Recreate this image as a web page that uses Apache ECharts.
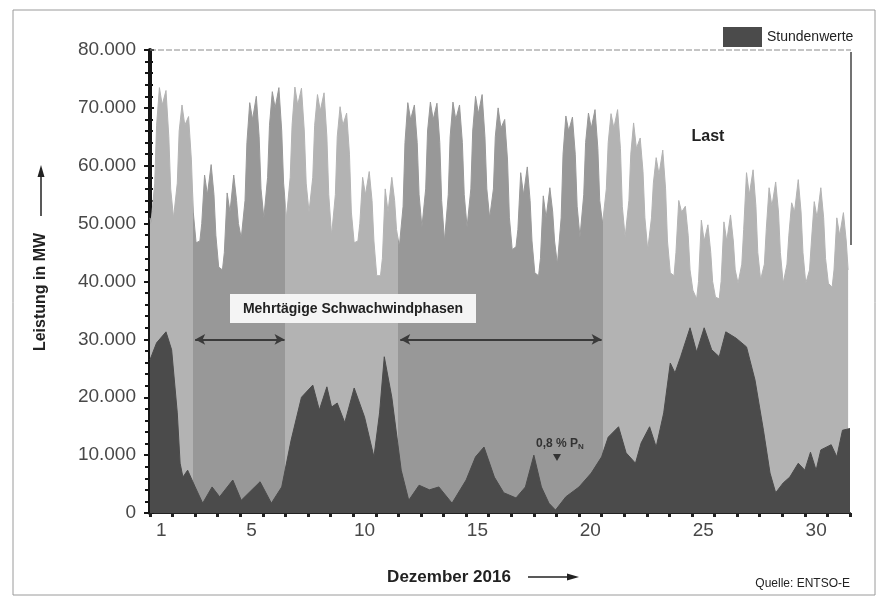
<!DOCTYPE html>
<html>
<head>
<meta charset="utf-8">
<script src="https://cdn.jsdelivr.net/npm/echarts@6/dist/echarts.min.js"></script>
<style>html,body{margin:0;padding:0;background:#fff}#c{width:881px;height:600px}</style>
</head>
<body>
<div id="c"></div>
<script>
// ---- data ----
const dayTickLabels = [1, 5, 10, 15, 20, 25, 30];
const yTicks = [0, 10000, 20000, 30000, 40000, 50000, 60000, 70000, 80000];
const yTickLabels = ['0', '10.000', '20.000', '30.000', '40.000', '50.000', '60.000', '70.000', '80.000'];

// hour-of-day stamps for the load readings of each day
const loadHours = [1, 5, 7, 10, 13, 17, 20, 22];
const loadFirst = [0, 51000];
const loadByDay = [
  [50000, 57000, 67000, 73500, 70500, 73000, 65000, 56000],
  [51000, 57000, 66000, 70500, 67000, 68500, 61000, 52000],
  [46700, 47000, 50000, 58400, 55000, 60200, 55000, 48000],
  [42500, 42000, 45000, 55300, 52000, 58400, 54000, 50000],
  [47500, 54000, 64000, 70900, 68000, 72000, 65000, 56000],
  [51000, 58000, 67000, 72800, 70000, 73500, 66000, 57000],
  [51000, 58000, 67000, 73600, 70500, 73400, 66000, 57000],
  [52000, 58000, 67000, 72300, 69500, 72600, 65000, 55000],
  [48000, 55000, 65000, 70200, 67000, 69100, 62000, 52000],
  [46700, 47000, 50000, 58000, 55000, 59000, 54000, 47000],
  [41000, 41000, 44000, 56000, 52000, 58000, 54000, 49000],
  [46000, 53000, 64000, 70900, 68000, 70500, 64000, 55000],
  [49400, 56000, 66000, 71000, 68000, 70800, 64000, 54000],
  [47000, 55000, 65000, 71000, 68000, 70500, 64000, 55000],
  [49400, 56000, 66000, 72000, 69000, 72300, 65000, 56000],
  [51000, 56000, 65000, 70000, 66500, 68000, 61000, 51000],
  [45500, 46000, 49000, 58800, 55000, 59800, 54000, 47000],
  [41500, 41000, 44000, 54800, 51000, 56200, 52000, 47000],
  [43000, 51000, 62000, 68600, 66000, 68400, 62000, 53000],
  [47700, 55000, 64000, 69100, 66500, 69700, 63000, 54000],
  [50000, 56000, 64000, 69000, 66500, 69700, 63000, 53000],
  [47700, 54000, 62000, 67400, 63000, 64800, 59000, 51000],
  [45500, 51000, 57000, 61400, 58500, 62700, 56000, 47000],
  [41500, 41000, 45000, 54000, 52000, 53000, 48000, 42000],
  [38500, 37000, 40000, 50600, 47000, 49800, 45000, 40000],
  [37300, 37000, 40000, 50300, 47000, 51500, 47000, 42000],
  [39700, 43000, 49000, 58800, 55000, 59300, 53000, 45000],
  [40300, 43000, 49000, 56200, 53000, 57200, 52000, 45000],
  [39700, 43000, 48000, 53600, 52000, 57600, 52000, 45000],
  [39700, 42000, 47000, 53800, 51000, 56200, 51000, 44000],
  [39700, 39000, 42000, 51000, 48000, 51900, 47000, 42000]
];

// wind power (hour of month, MW)
const windHours = [0, 2, 7, 17, 23, 29, 32, 35, 40, 48,
  56, 66, 74, 88, 97, 117, 129, 140, 150, 161,
  173, 180, 188, 193, 199, 207, 217, 228, 238, 244,
  249, 257, 267, 275, 286, 297, 307, 321, 336, 346,
  355, 366, 376, 389, 399, 408, 416, 424, 431, 442,
  456, 469, 480, 487, 498, 506, 516, 522, 531, 538,
  546, 553, 558, 564, 574, 581, 589, 597, 605, 612,
  623, 634, 643, 652, 659, 665, 673, 680, 689, 696,
  702, 708, 713, 724, 730, 736, 744];
const windValues = [26500, 27300, 29400, 31300, 28200, 17300, 8600, 6200, 7400, 4500,
  1700, 4500, 2800, 5700, 2200, 5400, 1700, 4500, 12600, 20000,
  22100, 17800, 21800, 18300, 19000, 15600, 21600, 16600, 9700, 17300,
  27000, 20000, 7400, 2200, 4800, 4000, 4500, 1700, 5700, 9700,
  11400, 6200, 3500, 2600, 4500, 10000, 4500, 1700, 500, 2800,
  4500, 6900, 9700, 13100, 14900, 10400, 8600, 12100, 14900, 11400,
  17300, 25900, 24200, 27000, 32000, 27800, 32000, 28200, 27000, 31300,
  30200, 28700, 23000, 14300, 6900, 3500, 5200, 6200, 8600, 7400,
  10500, 7400, 10900, 11800, 9700, 14300, 14600];

// multi-day low-wind phases (hour of month)
const lowWindPhases = [[46, 144], [264, 481]];
const phaseArrows = [[48, 143], [266, 480]];
const arrowLevel = 30000;

// ---- build ----
const loadData = [loadFirst];
loadByDay.forEach((vals, d) => vals.forEach((v, j) => loadData.push([d * 24 + loadHours[j], v])));
const windData = windHours.map((h, i) => [h, windValues[i]]);

const LIGHT = '#b3b3b3', DARK = '#989898', WIND = '#4b4b4b', INK = '#222';
const pieces = [];
let prev = null;
lowWindPhases.forEach(([a, b]) => {
  pieces.push(prev === null ? { lt: a, color: LIGHT } : { gte: prev, lt: a, color: LIGHT });
  pieces.push({ gte: a, lt: b, color: DARK });
  prev = b;
});
pieces.push({ gte: prev, color: LIGHT });

const FONT = '"Liberation Sans", Arial, sans-serif';
const chart = echarts.init(document.getElementById('c'));
chart.setOption({
  animation: false,
  backgroundColor: '#fff',
  grid: { left: 150, right: 31, top: 50, bottom: 87 },
  legend: {
    data: ['Stundenwerte'], left: 723, top: 27, padding: 0,
    itemWidth: 39, itemHeight: 20, icon: 'rect',
    textStyle: { fontFamily: FONT, fontSize: 14, color: INK }
  },
  visualMap: { show: false, type: 'piecewise', dimension: 0, seriesIndex: 0, pieces: pieces },
  xAxis: [
    {
      type: 'value', min: 0, max: 744, interval: 24, position: 'bottom',
      axisLine: { lineStyle: { color: '#222', width: 2 } },
      axisTick: { show: true, length: 4, lineStyle: { color: '#222', width: 3 } },
      axisLabel: { show: false }, splitLine: { show: false }
    },
    {
      type: 'value', min: 0, max: 744, interval: 12, position: 'bottom',
      axisLine: { show: false }, axisTick: { show: false }, splitLine: { show: false },
      axisLabel: {
        margin: 8, fontFamily: FONT, fontSize: 19, color: '#484848',
        formatter: function (v) {
          if ((v - 12) % 24 !== 0) return '';
          const d = (v - 12) / 24 + 1;
          return dayTickLabels.indexOf(d) >= 0 ? String(d) : '';
        }
      }
    }
  ],
  yAxis: [
    {
      type: 'value', min: 0, max: 80000, interval: 10000, position: 'left',
      axisLine: { show: true, lineStyle: { color: '#151515', width: 4 } },
      axisTick: { show: true, length: 6, lineStyle: { color: '#151515', width: 2 } },
      minorTick: { show: true, splitNumber: 5, length: 5, lineStyle: { color: '#151515', width: 2 } },
      splitLine: { show: false },
      axisLabel: {
        margin: 14, fontFamily: FONT, fontSize: 19, color: '#484848',
        formatter: function (v) { const i = yTicks.indexOf(v); return i >= 0 ? yTickLabels[i] : ''; }
      }
    },
    {
      type: 'value', min: 0, max: 80000, interval: 10000, position: 'left',
      axisLine: { show: false },
      axisTick: { show: true, inside: true, length: 4, lineStyle: { color: '#151515', width: 2 } },
      minorTick: { show: true, splitNumber: 5, length: 3, lineStyle: { color: '#151515', width: 2 } },
      splitLine: { show: false }, axisLabel: { show: false }
    }
  ],
  series: [
    {
      name: 'Last', type: 'line', data: loadData, symbol: 'none', silent: true,
      lineStyle: { width: 1 }, areaStyle: { opacity: 1 }, z: 2
    },
    {
      name: 'Stundenwerte', type: 'line', data: windData, symbol: 'none', silent: true,
      itemStyle: { color: WIND }, lineStyle: { color: WIND, width: 1 },
      areaStyle: { color: WIND, opacity: 1 }, z: 3,
      markLine: {
        silent: true, symbol: ['arrow', 'arrow'], symbolSize: [8, 10],
        lineStyle: { color: '#3a3a3a', width: 2, type: 'solid' }, label: { show: false },
        data: phaseArrows.map(([a, b]) => [{ coord: [a, arrowLevel] }, { coord: [b, arrowLevel] }])
      }
    }
  ],
  graphic: [
    { type: 'rect', z: -10, shape: { x: 13, y: 10, width: 862, height: 585 }, style: { fill: 'none', stroke: '#9a9a9a', lineWidth: 1 } },
    { type: 'line', z: 5, shape: { x1: 150, y1: 50, x2: 851, y2: 50 }, style: { stroke: '#8a8a8a', lineWidth: 1, lineDash: [6, 2] } },
    { type: 'line', z: 5, shape: { x1: 851, y1: 52, x2: 851, y2: 245 }, style: { stroke: '#444', lineWidth: 1.5 } },
    { type: 'rect', z: 10, shape: { x: 230, y: 294, width: 246, height: 29 }, style: { fill: '#f4f4f4' } },
    { type: 'text', z: 11, x: 353, y: 309, style: { text: 'Mehrtägige Schwachwindphasen', font: 'bold 14px ' + FONT, fill: INK, align: 'center', verticalAlign: 'middle' } },
    { type: 'text', z: 11, x: 708, y: 137, style: { text: 'Last', font: 'bold 16px ' + FONT, fill: INK, align: 'center', verticalAlign: 'middle' } },
    { type: 'text', z: 11, x: 560, y: 444, style: { text: '{a|0,8 % P}{s|N}', rich: { a: { font: 'bold 12px ' + FONT, fill: '#333' }, s: { font: 'bold 8px ' + FONT, fill: '#333', padding: [5, 0, 0, 0] } }, align: 'center', verticalAlign: 'middle' } },
    { type: 'polygon', z: 11, shape: { points: [[553, 454], [561, 454], [557, 461]] }, style: { fill: '#333' } },
    { type: 'text', z: 11, x: 41, y: 292, rotation: Math.PI / 2, style: { text: 'Leistung in MW', font: 'bold 16px ' + FONT, fill: INK, align: 'center', verticalAlign: 'middle' } },
    { type: 'line', z: 11, shape: { x1: 41, y1: 216, x2: 41, y2: 174 }, style: { stroke: INK, lineWidth: 1.5 } },
    { type: 'polygon', z: 11, shape: { points: [[41, 165], [37.5, 177], [44.5, 177]] }, style: { fill: INK } },
    { type: 'text', z: 11, x: 449, y: 577, style: { text: 'Dezember 2016', font: 'bold 17px ' + FONT, fill: INK, align: 'center', verticalAlign: 'middle' } },
    { type: 'line', z: 11, shape: { x1: 528, y1: 577, x2: 569, y2: 577 }, style: { stroke: INK, lineWidth: 1.5 } },
    { type: 'polygon', z: 11, shape: { points: [[579, 577], [567, 573.5], [567, 580.5]] }, style: { fill: INK } },
    { type: 'text', z: 11, x: 850, y: 584, style: { text: 'Quelle: ENTSO-E', font: '12px ' + FONT, fill: INK, align: 'right', verticalAlign: 'middle' } }
  ]
});
</script>
</body>
</html>
